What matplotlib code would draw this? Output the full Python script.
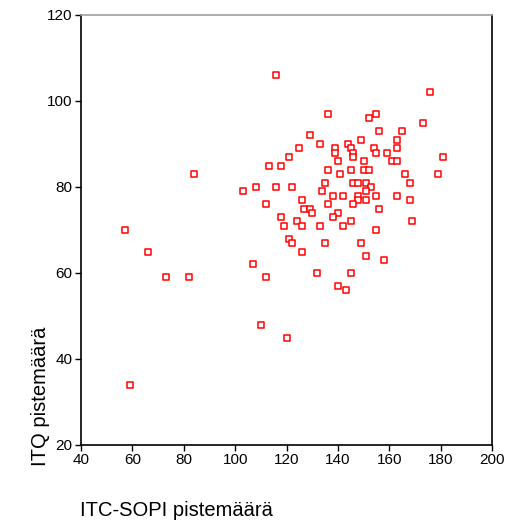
import matplotlib
matplotlib.use('Agg')
import matplotlib.pyplot as plt

plt.rcParams["font.family"] = ['Liberation Sans', 'DejaVu Sans']

# ITC-SOPI score (x) and ITQ score (y)
itc_sopi = [
    176, 136, 152, 155, 173, 156, 165, 129, 133, 144,
    149, 163, 125, 139, 139, 145, 146, 146, 154, 155,
    159, 163, 161, 163, 181, 121, 118, 140, 150, 136,
    145, 150, 152, 141, 166, 179, 135, 146, 148, 151,
    168, 122, 153, 134, 151, 138, 142, 148, 155, 163,
    126, 148, 151, 168, 136, 146, 127, 129, 156, 130,
    140, 138, 118, 124, 145, 169, 119, 126, 133, 142,
    155, 113, 103, 108, 116, 112, 116, 84, 57, 121,
    122, 135, 149, 126, 151, 158, 132, 145, 140, 143,
    120, 66, 107, 73, 82, 112, 110, 59,
]
itq = [
    102, 97, 96, 97, 95, 93, 93, 92, 90, 90,
    91, 91, 89, 89, 88, 89, 88, 87, 89, 88,
    88, 89, 86, 86, 87, 87, 85, 86, 86, 84,
    84, 84, 84, 83, 83, 83, 81, 81, 81, 81,
    81, 80, 80, 79, 79, 78, 78, 78, 78, 78,
    77, 77, 77, 77, 76, 76, 75, 75, 75, 74,
    74, 73, 73, 72, 72, 72, 71, 71, 71, 71,
    70, 85, 79, 80, 80, 76, 106, 83, 70, 68,
    67, 67, 67, 65, 64, 63, 60, 60, 57, 56,
    45, 65, 62, 59, 59, 59, 48, 34,
]
x_ticks = [40, 60, 80, 100, 120, 140, 160, 180, 200]
y_ticks = [20, 40, 60, 80, 100, 120]

fig = plt.figure(figsize=(5.08, 5.22), dpi=100)
ax = fig.add_axes([81 / 508, 77 / 522, 411 / 508, 430 / 522])

ax.scatter(itc_sopi, itq, marker='s', s=17, facecolors='white',
           edgecolors='#ff0000', linewidths=1.1, zorder=3)

ax.set_xlim(40, 200)
ax.set_ylim(20, 120)
ax.set_xticks(x_ticks)
ax.set_yticks(y_ticks)
ax.tick_params(direction='out', length=4, width=1, labelsize=11,
               color='black', pad=2)
for side in ['left', 'bottom', 'right']:
    ax.spines[side].set_color('black')
    ax.spines[side].set_linewidth(1.2)
ax.spines['top'].set_color('#a0a0a0')
ax.spines['top'].set_linewidth(1.2)

fig.text(80 / 508, 1 - 510 / 522, 'ITC-SOPI pistemäärä', fontsize=14.5,
         ha='left', va='center')
fig.text(40 / 508, 1 - 466 / 522, 'ITQ pistemäärä', fontsize=14.5,
         rotation=90, ha='center', va='bottom')

fig.savefig('out.png', dpi=100, facecolor='white')
